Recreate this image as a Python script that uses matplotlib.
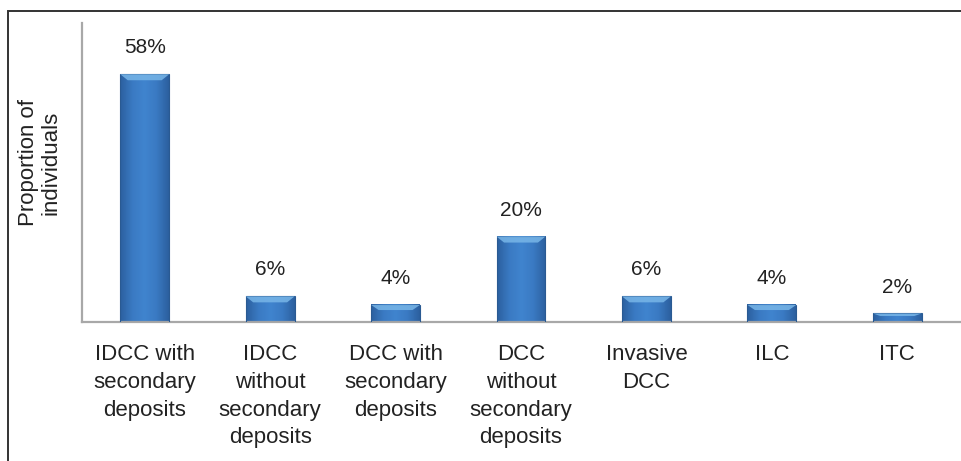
import matplotlib.pyplot as plt
import numpy as np
from matplotlib.patches import Rectangle, Polygon
from matplotlib.colors import LinearSegmentedColormap

plt.rcParams['font.family'] = ['Liberation Sans', 'DejaVu Sans']

categories = ["IDCC with\nsecondary\ndeposits", "IDCC\nwithout\nsecondary\ndeposits",
              "DCC with\nsecondary\ndeposits", "DCC\nwithout\nsecondary\ndeposits",
              "Invasive\nDCC", "ILC", "ITC"]
values = [58, 6, 4, 20, 6, 4, 2]
labels = ["58%", "6%", "4%", "20%", "6%", "4%", "2%"]

fig = plt.figure(figsize=(9.62, 4.61), dpi=100)

# outer frame, open past the right and bottom edges
fig.patches.append(Rectangle((8 / 962, -0.2), 1.5, 1.2 - 11 / 461,
                             transform=fig.transFigure, fill=False,
                             edgecolor="#333333", lw=1.4))

ax = fig.add_axes([82 / 962, 1 - 322 / 461, (960 - 82) / 962, (322 - 23) / 461])
ax.set_xlim(-0.5, len(values) - 0.5)
ax.set_ylim(0, 70)

grad = LinearSegmentedColormap.from_list(
    "barblue", ["#2c609f", "#3a7ac3", "#4084ce", "#3a7ac3", "#2c609f"])
gx = np.linspace(0, 1, 64).reshape(1, -1)
w = 0.39
for i, v in enumerate(values):
    x0, x1 = i - w / 2, i + w / 2
    ax.imshow(gx, cmap=grad, extent=(x0, x1, 0, v), aspect="auto", zorder=2,
              interpolation="bilinear")
    ax.add_patch(Rectangle((x0, 0), w, v, fill=False, edgecolor="#2a5a92",
                           lw=0.8, zorder=3))
    cap = min(1.4, v * 0.3)
    ax.add_patch(Polygon([(x0, v), (x1, v), (x1 - 0.06, v - cap), (x0 + 0.06, v - cap)],
                         closed=True, facecolor="#78b6e8", edgecolor="none",
                         alpha=0.85, zorder=3))
    ax.annotate(labels[i], (i, v), xytext=(0, 19), textcoords="offset points",
                ha="center", va="center", fontsize=15, color="#222222")

ax.set_xticks(range(len(categories)))
ax.set_xticklabels(categories, fontsize=16, color="#222222", linespacing=1.42)
ax.tick_params(axis="x", length=0, pad=16)
ax.set_yticks([])
for s in ["top", "right"]:
    ax.spines[s].set_visible(False)
for s in ["left", "bottom"]:
    ax.spines[s].set_color("#a8a8a8")
    ax.spines[s].set_linewidth(1.6)

fig.text(40 / 962, 1 - 163 / 461, "Proportion of\nindividuals", rotation=90,
         ha="center", va="center", fontsize=16, color="#222222", linespacing=1.1)

fig.savefig("out.png", dpi=100)
